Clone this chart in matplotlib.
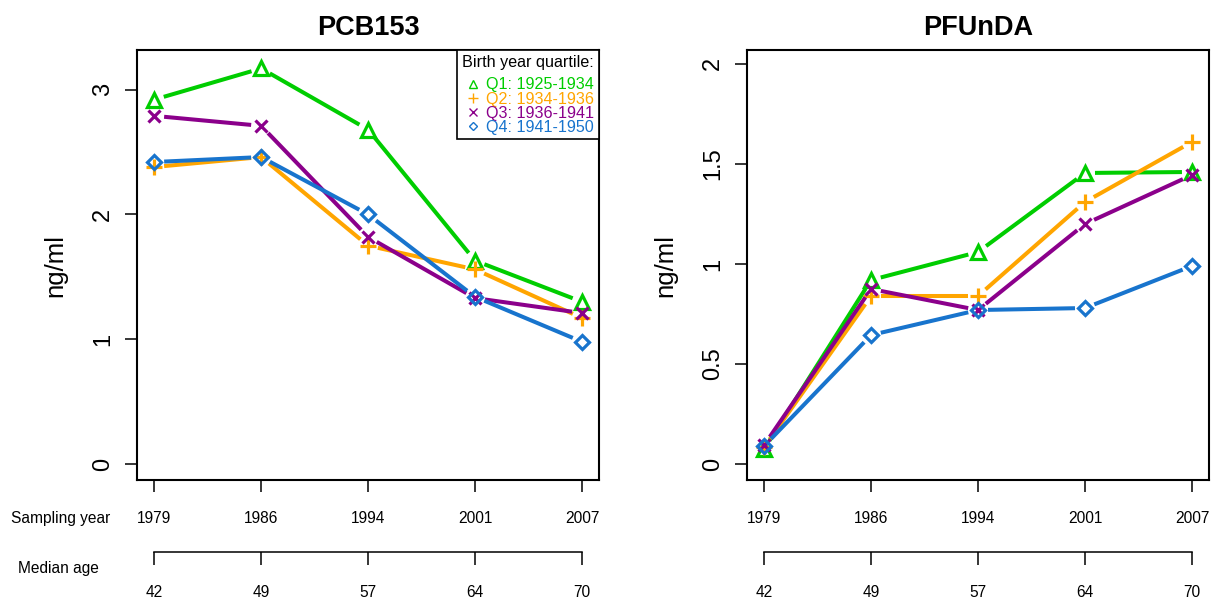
"""Median serum levels of PCB153 and PFUnDA by sampling year and birth-year quartile.

Two panels in the style of an R base-graphics plot (type = "b"), with a second
x axis showing the median age at each sampling.

    python plot.py        # saves out.png
"""

import matplotlib.pyplot as plt
import numpy as np
from matplotlib.lines import Line2D

plt.rcParams["font.family"] = ["Liberation Sans", "DejaVu Sans"]

# Sampling rounds and the median age at each.
years = ["1979", "1986", "1994", "2001", "2007"]
median_age = ["42", "49", "57", "64", "70"]

quartiles = ["Q1: 1925-1934", "Q2: 1934-1936", "Q3: 1936-1941", "Q4: 1941-1950"]
colors = ["#00CD00", "#FFA500", "#8B008B", "#1874CD"]
markers = ["^", "+", "x", "D"]

# ng/ml (one list per birth-year quartile).
pcb153 = [
    [2.92, 3.17, 2.68, 1.63, 1.30],
    [2.38, 2.46, 1.75, 1.56, 1.17],
    [2.79, 2.71, 1.82, 1.33, 1.21],
    [2.42, 2.46, 2.00, 1.34, 0.98],
]
pfunda = [
    [0.075, 0.92, 1.06, 1.455, 1.46],
    [0.085, 0.84, 0.84, 1.31, 1.61],
    [0.095, 0.875, 0.77, 1.20, 1.445],
    [0.09, 0.645, 0.77, 0.78, 0.99],
]

GAP_PX = 10  # R type="b" leaves a gap round each point
LINE_W = 2.9
MARK_SIZE = {"^": 10, "+": 12, "x": 9, "D": 7.5}
MARK_EW = 2.3


def gapped_line(ax, x, y, color, z):
    """Draw the connecting segments, stopping short of each point."""
    pts = ax.transData.transform(np.column_stack([x, y]))
    inv = ax.transData.inverted()
    for p0, p1 in zip(pts[:-1], pts[1:]):
        d = p1 - p0
        length = np.hypot(*d)
        if length <= 2 * GAP_PX:
            continue
        u = d / length
        seg = inv.transform(np.vstack([p0 + GAP_PX * u, p1 - GAP_PX * u]))
        ax.plot(seg[:, 0], seg[:, 1], color=color, lw=LINE_W,
                solid_capstyle="butt", zorder=z)


def draw_panel(ax, series, title, ymax, yticks, yticklabels):
    x = np.arange(1, len(years) + 1)
    ax.set_xlim(0.84, 5.16)
    ax.set_ylim(-0.04 * ymax, 1.04 * ymax)

    for i, vals in enumerate(series):
        z = 3 + i
        gapped_line(ax, x, vals, colors[i], z)
        ax.plot(x, vals, linestyle="none", marker=markers[i],
                ms=MARK_SIZE[markers[i]], mew=MARK_EW, mfc="none",
                mec=colors[i], zorder=z)

    ax.set_title(title, fontsize=19.5, fontweight="bold", pad=11)

    ax.set_xticks(x, labels=years)
    ax.set_yticks(yticks, labels=yticklabels)
    ax.tick_params(axis="x", length=8.6, width=1.1, labelsize=11.2, pad=14)
    ax.tick_params(axis="y", length=8.6, width=1.1, labelsize=17, pad=8)
    for lbl in ax.get_yticklabels():
        lbl.set_rotation(90)
        lbl.set_va("center")
    for sp in ax.spines.values():
        sp.set_linewidth(1.5)

    ax.set_ylabel("ng/ml", fontsize=18.5)
    ax.yaxis.label.set_va("center")
    ax.yaxis.set_label_coords(-0.1775, 0.5)

    # Second axis below: median age
    sec = ax.secondary_xaxis(-0.1674)
    sec.set_xticks(x, labels=median_age)
    sec.tick_params(axis="x", length=9, width=1.1, labelsize=11.2, pad=15)
    sec.spines["bottom"].set_bounds(1, 5)
    sec.spines["bottom"].set_linewidth(1.1)


def build_figure():
    fig = plt.figure(figsize=(12.16, 6.01), dpi=100)
    ax1 = fig.add_axes([0.1127, 0.2013, 0.38, 0.7155])
    ax2 = fig.add_axes([0.6143, 0.2013, 0.38, 0.7155])

    draw_panel(ax1, pcb153, "PCB153", 3.19, [0, 1, 2, 3], ["0", "1", "2", "3"])
    draw_panel(ax2, pfunda, "PFUnDA", 1.99, [0, 0.5, 1, 1.5, 2],
               ["0", "0.5", "1", "1.5", "2"])

    handles = [
        Line2D([], [], linestyle="none", marker=m, mfc="none", mec=c,
               ms=MARK_SIZE[m] * 0.6, mew=1.0)
        for m, c in zip(markers, colors)
    ]
    leg = ax1.legend(handles, quartiles, title="Birth year quartile:",
                     loc="upper right", borderaxespad=0, fontsize=11.6,
                     title_fontsize=11.6, frameon=True, fancybox=False,
                     framealpha=1, edgecolor="black", handlelength=1.4,
                     handletextpad=0.1, labelspacing=-0.06, borderpad=0.3)
    leg._legend_box.sep = 5.5  # gap under the title
    leg.get_frame().set_linewidth(1.2)
    for txt, c in zip(leg.get_texts(), colors):
        txt.set_color(c)

    fig.text(60.5 / 1216, 1 - 518 / 601, "Sampling year", fontsize=11.2,
             ha="center", va="center")
    fig.text(58 / 1216, 1 - 568 / 601, "Median age", fontsize=11.2,
             ha="center", va="center")
    return fig


def main():
    fig = build_figure()
    fig.savefig("out.png", dpi=100)


if __name__ == "__main__":
    main()
